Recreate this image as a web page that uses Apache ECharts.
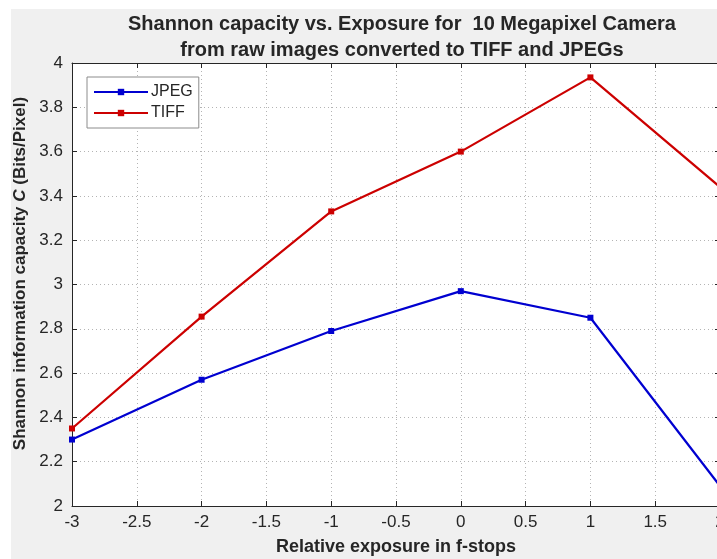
<!DOCTYPE html>
<html>
<head>
<meta charset="utf-8">
<script src="https://cdn.jsdelivr.net/npm/echarts@6/dist/echarts.min.js"></script>
<style>
  html, body { margin: 0; padding: 0; background: #fff; }
  #chart-container { width: 717px; height: 559px; }
</style>
</head>
<body>
<div id="chart-container"></div>
<script>
// exposure in f-stops and Shannon capacity (bits/pixel)
let exposure = [-3, -2, -1, 0, 1, 2];
let jpegValues = [2.30, 2.57, 2.79, 2.97, 2.85, 2.09];
let tiffValues = [2.35, 2.855, 3.33, 3.60, 3.935, 3.44];

let dom = document.getElementById("chart-container");
let myChart = echarts.init(dom, null, { renderer: "canvas" });

let axisColor = "#262626";
let fontFamily = "Liberation Sans, Arial, sans-serif";

function pairs(xs, ys) {
    return xs.map((x, i) => [x, ys[i]]);
}

let boxAxisLine = { show: true, onZero: false, lineStyle: { color: axisColor, width: 1 } };
let boxTick = { show: true, inside: true, length: 5, lineStyle: { color: axisColor } };
let gridLine = { show: true, lineStyle: { color: "#b4b4b4", type: [1, 3], width: 1 } };

let option = {
    animation: false,
    textStyle: { fontFamily: fontFamily },
    graphic: [{
        type: "rect",
        z: -10,
        silent: true,
        shape: { x: 11, y: 9, width: 720, height: 560 },
        style: { fill: "#f0f0f0" },
    }],
    title: {
        text: "Shannon capacity vs. Exposure for  10 Megapixel Camera\nfrom raw images converted to TIFF and JPEGs",
        left: 397,
        top: 6,
        textAlign: "center",
        textStyle: {
            fontFamily: fontFamily,
            fontSize: 20,
            fontWeight: "bold",
            color: axisColor,
            lineHeight: 26,
        },
    },
    legend: {
        orient: "vertical",
        left: 87,
        top: 77,
        padding: [6, 6, 6, 6],
        itemGap: 3,
        itemWidth: 54,
        itemHeight: 8,
        backgroundColor: "#fff",
        borderColor: "#8c8c8c",
        borderWidth: 1,
        borderRadius: 0,
        textStyle: { fontSize: 16, lineHeight: 18, color: axisColor, fontFamily: fontFamily, padding: [0, 0, 0, -2] },
        data: ["JPEG", "TIFF"],
    },
    grid: {
        left: 72,
        top: 63,
        right: -3,
        bottom: 53,
        outerBoundsMode: "none",
        containLabel: false,
        show: true,
        backgroundColor: "#fff",
        borderWidth: 0,
    },
    xAxis: [{
        type: "value",
        min: -3,
        max: 2,
        interval: 0.5,
        name: "Relative exposure in f-stops",
        nameLocation: "middle",
        nameGap: 32,
        nameTextStyle: { fontSize: 18, fontWeight: "bold", color: axisColor },
        axisLine: boxAxisLine,
        axisTick: boxTick,
        axisLabel: { fontSize: 17, color: axisColor, margin: 8 },
        splitLine: gridLine,
    }, {
        type: "value",
        position: "top",
        min: -3,
        max: 2,
        interval: 0.5,
        axisLine: boxAxisLine,
        axisTick: boxTick,
        axisLabel: { show: false },
        splitLine: { show: false },
    }],
    yAxis: [{
        type: "value",
        min: 2,
        max: 4,
        interval: 0.2,
        name: "Shannon information capacity {i|C} (Bits/Pixel)",
        nameLocation: "middle",
        nameGap: 40,
        nameTextStyle: {
            fontSize: 17,
            fontWeight: "bold",
            color: axisColor,
            padding: [0, 0, 0, 22],
            rich: { i: { fontSize: 17, fontWeight: "bold", fontStyle: "italic", color: axisColor } },
        },
        axisLine: boxAxisLine,
        axisTick: boxTick,
        axisLabel: {
            fontSize: 17,
            color: axisColor,
            margin: 9,
            formatter: (v) => String(Math.round(v * 10) / 10),
        },
        splitLine: gridLine,
    }, {
        type: "value",
        position: "right",
        min: 2,
        max: 4,
        interval: 0.2,
        axisLine: boxAxisLine,
        axisTick: boxTick,
        axisLabel: { show: false },
        splitLine: { show: false },
    }],
    series: [{
        name: "JPEG",
        type: "line",
        data: pairs(exposure, jpegValues),
        symbol: "rect",
        symbolSize: 6,
        itemStyle: { color: "#0000d0" },
        lineStyle: { color: "#0000d0", width: 2.2 },
    }, {
        name: "TIFF",
        type: "line",
        data: pairs(exposure, tiffValues),
        symbol: "rect",
        symbolSize: 6,
        itemStyle: { color: "#cc0000" },
        lineStyle: { color: "#cc0000", width: 2.2 },
    }],
};

myChart.setOption(option);
window.addEventListener("resize", myChart.resize);
</script>
</body>
</html>
